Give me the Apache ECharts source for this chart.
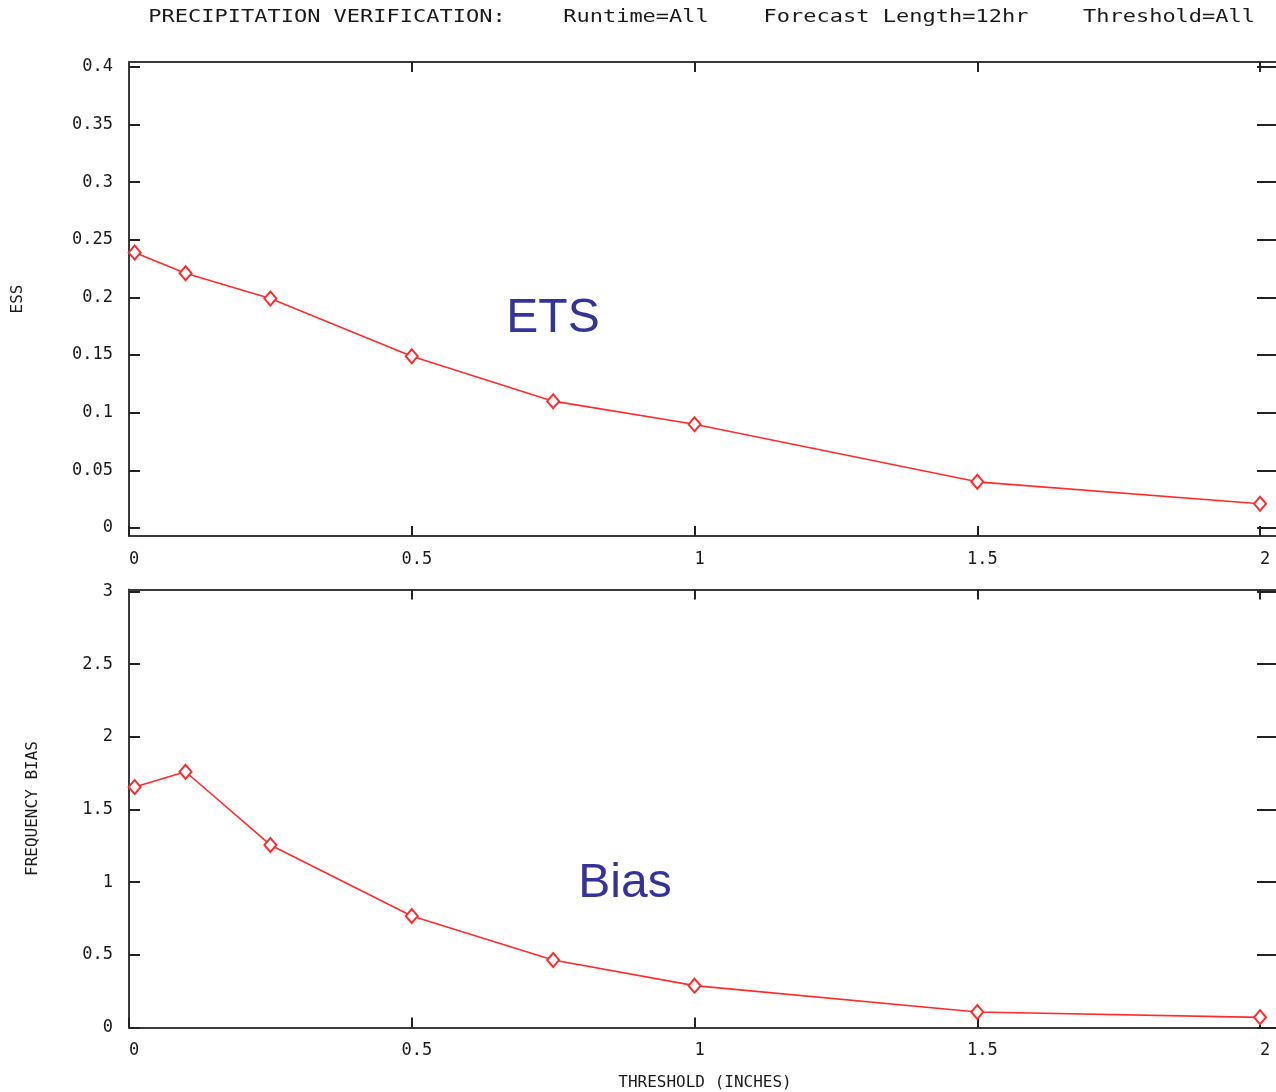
<!DOCTYPE html>
<html lang="en">
<head>
  <meta charset="UTF-8">
  <title>Precipitation verification</title>
  <style>
    html, body { margin: 0; padding: 0; background: #fff; }
  </style>
</head>
<body>
  <div id="main" style="width: 1276px; height: 1092px"></div>

  <script src="https://cdn.jsdelivr.net/npm/echarts@6/dist/echarts.min.js"></script>
  <script>
    // threshold (inches) for each point
    const thresholds = [0.01, 0.1, 0.25, 0.5, 0.75, 1, 1.5, 2]
    const ets = [0.239, 0.221, 0.199, 0.149, 0.110, 0.090, 0.040, 0.021]
    const bias = [1.655, 1.76, 1.256, 0.767, 0.465, 0.288, 0.107, 0.070]

    const xTicks = [0, 0.5, 1, 1.5, 2]
    const etsTicks = [0, 0.05, 0.1, 0.15, 0.2, 0.25, 0.3, 0.35, 0.4]
    const biasTicks = [0, 0.5, 1, 1.5, 2, 2.5, 3]

    const titleParts = [
      { text: 'PRECIPITATION VERIFICATION:', x: 327 },
      { text: 'Runtime=All', x: 636 },
      { text: 'Forecast Length=12hr', x: 896 },
      { text: 'Threshold=All', x: 1169 }
    ]

    const mono = '"DejaVu Sans Mono", "Liberation Mono", monospace'
    const ink = '#1a1a1a'
    const frame = { show: true, onZero: false, lineStyle: { color: '#3a3a3a', width: 2 } }
    const red = '#ff2b2b'

    function pairs(xs, ys) {
      return xs.map((x, i) => [x, ys[i]])
    }

    function bottomX(grid) {
      return {
        type: 'value', gridIndex: grid, position: 'bottom', min: 0, max: 2.037,
        axisLine: frame, splitLine: { show: false },
        axisTick: { inside: true, length: 10, customValues: xTicks, lineStyle: { color: '#222', width: 2 } },
        axisLabel: {
          customValues: xTicks, formatter: v => String(v), margin: 15,
          color: ink, fontFamily: mono, fontSize: 17, padding: [0, 0, 0, 10]
        }
      }
    }

    function topX(grid) {
      return {
        type: 'value', gridIndex: grid, position: 'top', min: 0, max: 2.037,
        axisLine: frame, splitLine: { show: false },
        axisTick: { inside: true, length: 10, customValues: xTicks.slice(1), lineStyle: { color: '#222', width: 2 } },
        axisLabel: { show: false }
      }
    }

    function leftY(grid, min, max, ticks, name, gap) {
      return {
        type: 'value', gridIndex: grid, position: 'left', min: min, max: max,
        name: name, nameLocation: 'middle', nameGap: gap,
        nameTextStyle: { color: ink, fontFamily: mono, fontSize: 16 },
        axisLine: frame, splitLine: { show: false },
        axisTick: { inside: true, length: 11, customValues: ticks, lineStyle: { color: '#222', width: 2 } },
        axisLabel: {
          customValues: ticks, formatter: v => String(v), margin: 16,
          color: ink, fontFamily: mono, fontSize: 17
        }
      }
    }

    function rightY(grid, min, max, ticks) {
      return {
        type: 'value', gridIndex: grid, position: 'right', min: min, max: max,
        axisLine: frame, splitLine: { show: false },
        axisTick: { inside: true, length: 24, customValues: ticks, lineStyle: { color: '#222', width: 2 } },
        axisLabel: { show: false }
      }
    }

    const myChart = echarts.init(document.getElementById('main'))

    const option = {
      animation: false,
      backgroundColor: '#fff',
      grid: [
        { left: 129, top: 62, width: 1152, height: 474, outerBoundsMode: 'none', containLabel: false },
        { left: 129, top: 589.5, width: 1152, height: 438, outerBoundsMode: 'none', containLabel: false }
      ],
      xAxis: [
        bottomX(0), topX(0),
        Object.assign(bottomX(1), {
          name: 'THRESHOLD (INCHES)', nameLocation: 'middle', nameGap: 47,
          nameTextStyle: { color: ink, fontFamily: mono, fontSize: 16 }
        }),
        topX(1)
      ],
      yAxis: [
        leftY(0, -0.007, 0.4043, etsTicks, 'ESS', 103),
        rightY(0, -0.007, 0.4043, etsTicks),
        leftY(1, 0, 3.014, biasTicks, 'FREQUENCY BIAS', 88),
        rightY(1, 0, 3.014, biasTicks)
      ],
      series: [
        {
          type: 'line', xAxisIndex: 0, yAxisIndex: 0,
          data: pairs(thresholds, ets),
          symbol: 'emptyDiamond', symbolSize: [12, 14],
          lineStyle: { color: red, width: 1.6 },
          itemStyle: { color: red, borderColor: red, borderWidth: 1.2 }
        },
        {
          type: 'line', xAxisIndex: 2, yAxisIndex: 2,
          data: pairs(thresholds, bias),
          symbol: 'emptyDiamond', symbolSize: [12, 14],
          lineStyle: { color: red, width: 1.6 },
          itemStyle: { color: red, borderColor: red, borderWidth: 1.2 }
        }
      ],
      graphic: titleParts.map(p => ({
        type: 'text', x: p.x, y: 18, scaleY: 0.78,
        style: {
          text: p.text, fill: ink, font: '22px ' + mono,
          textAlign: 'center', textVerticalAlign: 'middle'
        }
      })).concat([
        {
          type: 'text', x: 553, y: 319,
          style: {
            text: 'ETS', fill: '#33339a', font: '48px "Liberation Sans", Arial, sans-serif',
            textAlign: 'center', textVerticalAlign: 'middle'
          }
        },
        {
          type: 'text', x: 625, y: 884,
          style: {
            text: 'Bias', fill: '#33339a', font: '48px "Liberation Sans", Arial, sans-serif',
            textAlign: 'center', textVerticalAlign: 'middle'
          }
        }
      ])
    }

    myChart.setOption(option)
  </script>
</body>
</html>
